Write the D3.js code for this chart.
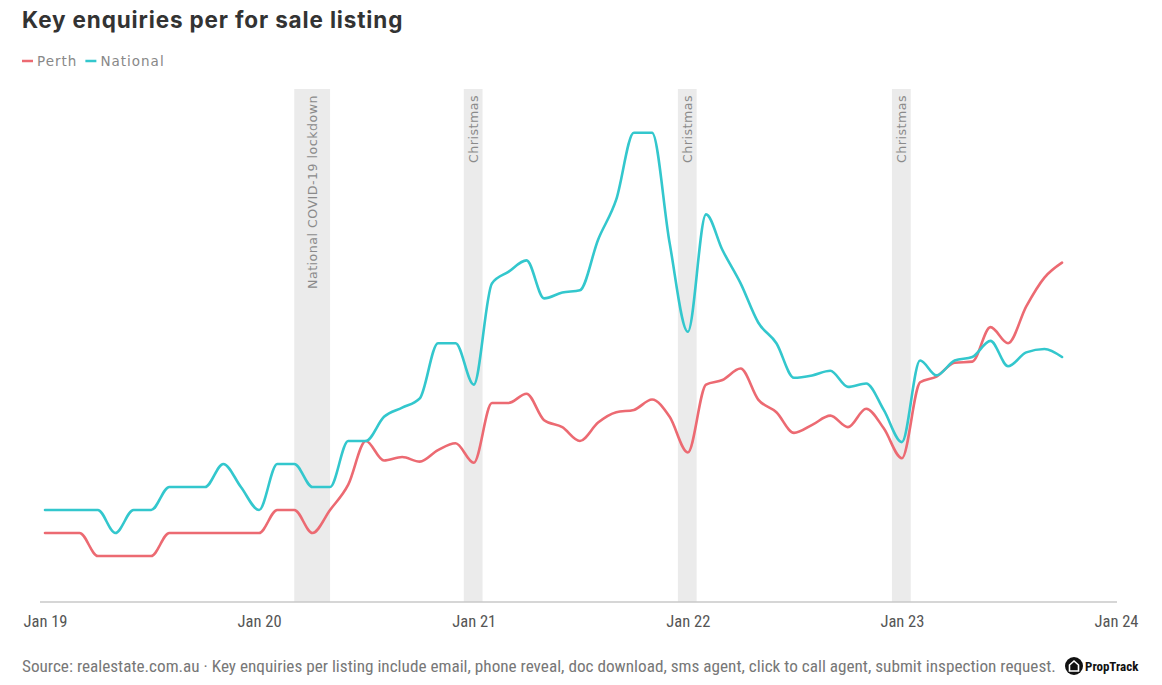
<!DOCTYPE html>
<html>
<head>
<meta charset="utf-8">
<script src="https://cdn.jsdelivr.net/npm/d3@7"></script>
<style>
  body { margin: 0; background: #fff; }
  svg { display: block; }
</style>
</head>
<body>
<svg id="chart" width="1162" height="685"></svg>
<script>
// Monthly data, Jan 2019 - Oct 2023 (index units, no y labels on the original)
const months = d3.timeMonths(new Date(2019, 0, 1), new Date(2023, 10, 1));
const perth = [3, 3, 3, 2, 2, 2, 2, 3, 3, 3, 3, 3,
  3, 4, 4, 3, 4, 5.1, 7, 6.15, 6.3, 6.1, 6.6, 6.9,
  6.05, 8.65, 8.65, 9.05, 7.9, 7.6, 7.0, 7.8, 8.25, 8.35, 8.8, 8.05,
  6.5, 9.45, 9.65, 10.15, 8.8, 8.25, 7.35, 7.7, 8.1, 7.6, 8.4, 7.55,
  6.25, 9.55, 9.8, 10.4, 10.45, 11.95, 11.25, 12.85, 14.1, 14.75];
const national = [4, 4, 4, 4, 3, 4, 4, 5, 5, 5, 6, 5,
  4, 6, 6, 5, 5, 7, 7, 8.05, 8.45, 8.85, 11.25, 11.25,
  9.45, 13.85, 14.35, 14.85, 13.2, 13.45, 13.55, 15.75, 17.5, 20.4, 20.4, 15.6,
  11.75, 16.85, 15.3, 13.85, 12.15, 11.25, 9.75, 9.85, 10.05, 9.35, 9.5, 8.35,
  6.95, 10.5, 9.85, 10.5, 10.65, 11.35, 10.25, 10.85, 11.0, 10.65];

const seriesNames = ['Perth', 'National'];
const seriesColors = ['#ec6a72', '#33c7cd'];

const bandLabels = ['National COVID-19 lockdown', 'Christmas', 'Christmas', 'Christmas'];
const bandStarts = [new Date(2020, 2, 1), new Date(2020, 11, 15), new Date(2021, 11, 15), new Date(2022, 11, 15)];
const bandEnds = [new Date(2020, 4, 1), new Date(2021, 0, 16), new Date(2022, 0, 16), new Date(2023, 0, 16)];

const tickDates = d3.timeYears(new Date(2019, 0, 1), new Date(2024, 0, 2));

const svg = d3.select('#chart');
const plotTop = 89, plotBottom = 602, plotLeft = 45, plotRight = 1116;
const wideFont = '"DejaVu Sans", Inter, sans-serif';
const narrowFont = '"Liberation Sans Narrow", "Roboto Condensed", Roboto, sans-serif';

const x = d3.scaleTime()
  .domain([new Date(2019, 0, 1), new Date(2024, 0, 1)])
  .range([plotLeft, plotRight]);
const y = d3.scaleLinear()
  .domain([0, 22.3])
  .range([plotBottom, plotTop]);

// Title
svg.append('text')
  .attr('x', 22).attr('y', 28)
  .attr('font-family', 'Inter, "Open Sans", sans-serif')
  .attr('font-weight', 700)
  .attr('font-size', 22.5)
  .attr('letter-spacing', 0.85)
  .attr('fill', '#333')
  .text('Key enquiries per for sale listing');

// Legend
const legend = svg.append('g').attr('transform', 'translate(22,61)');
let lx = 0;
seriesNames.forEach((name, i) => {
  legend.append('line')
    .attr('x1', lx).attr('x2', lx + 11)
    .attr('y1', 0).attr('y2', 0)
    .attr('stroke', seriesColors[i]).attr('stroke-width', 2.5);
  const t = legend.append('text')
    .attr('x', lx + 15).attr('y', 4.5)
    .attr('font-family', wideFont)
    .attr('font-size', 13.5)
    .attr('letter-spacing', 1)
    .attr('fill', '#888')
    .text(name);
  lx += 15 + t.node().getComputedTextLength() + 8;
});

// Shaded bands
const bands = svg.append('g');
bandStarts.forEach((s, i) => {
  bands.append('rect')
    .attr('x', x(s))
    .attr('y', plotTop)
    .attr('width', x(bandEnds[i]) - x(s))
    .attr('height', plotBottom - plotTop)
    .attr('fill', '#ebebeb');
  const cx = (x(s) + x(bandEnds[i])) / 2;
  bands.append('text')
    .attr('transform', `translate(${cx + 4.5},${plotTop + 6}) rotate(-90)`)
    .attr('text-anchor', 'end')
    .attr('font-family', wideFont)
    .attr('font-size', 12.6)
    .attr('letter-spacing', 0.5)
    .attr('fill', '#8a8a8a')
    .text(bandLabels[i]);
});

// X axis
const xAxis = svg.append('g')
  .attr('transform', `translate(0,${plotBottom})`)
  .call(d3.axisBottom(x).tickValues(tickDates).tickSize(0).tickPadding(13)
    .tickFormat(d3.timeFormat('Jan %y')));
xAxis.select('.domain')
  .attr('d', `M${plotLeft - 5},0H${plotRight + 1}`)
  .attr('stroke', '#c8c8c8').attr('stroke-width', 1.5);
xAxis.selectAll('text')
  .attr('font-family', narrowFont)
  .attr('font-size', 16.5)
  .attr('fill', '#555');

// Lines
const line = d3.line()
  .x((d, i) => x(months[i]))
  .y(d => y(d))
  .curve(d3.curveMonotoneX);

[perth, national].forEach((vals, i) => {
  svg.append('path')
    .datum(vals)
    .attr('d', line)
    .attr('fill', 'none')
    .attr('stroke', seriesColors[i])
    .attr('stroke-width', 2.6)
    .attr('stroke-linejoin', 'round')
    .attr('stroke-linecap', 'round');
});

// Footer
svg.append('text')
  .attr('x', 22).attr('y', 672)
  .attr('font-family', narrowFont)
  .attr('font-size', 17.2)
  .attr('fill', '#777')
  .text('Source: realestate.com.au \u00b7 Key enquiries per listing include email, phone reveal, doc download, sms agent, click to call agent, submit inspection request.');

// PropTrack logo
const logo = svg.append('g').attr('transform', 'translate(1074,666)');
logo.append('circle').attr('r', 9).attr('fill', '#111');
logo.append('path')
  .attr('d', 'M-4.5,5V-1L0,-5L4.5,-1V5Z')
  .attr('fill', 'none').attr('stroke', '#fff').attr('stroke-width', 1.6);
logo.append('text')
  .attr('x', 11).attr('y', 4.5)
  .attr('font-family', narrowFont)
  .attr('font-weight', 700)
  .attr('font-size', 13)
  .attr('fill', '#111')
  .text('PropTrack');
</script>
</body>
</html>
